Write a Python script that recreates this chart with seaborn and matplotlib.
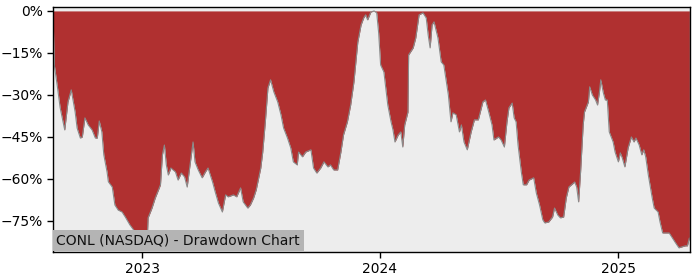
import matplotlib
matplotlib.use("Agg")
import matplotlib.pyplot as plt
from matplotlib.ticker import FuncFormatter
import seaborn as sns
import pandas as pd

dates = [
    "2022-08-17", "2022-08-18", "2022-08-19", "2022-08-24", "2022-08-28", "2022-09-04",
    "2022-09-09", "2022-09-14", "2022-09-20", "2022-09-23", "2022-09-28", "2022-10-01",
    "2022-10-05", "2022-10-10", "2022-10-16", "2022-10-21", "2022-10-24", "2022-10-27",
    "2022-10-31", "2022-11-03", "2022-11-08", "2022-11-10", "2022-11-16", "2022-11-20",
    "2022-11-25", "2022-12-01", "2022-12-06", "2022-12-13", "2022-12-21", "2022-12-26",
    "2022-12-29", "2023-01-02", "2023-01-09", "2023-01-10", "2023-01-16", "2023-01-21",
    "2023-01-26", "2023-01-29", "2023-02-01", "2023-02-04", "2023-02-07", "2023-02-10",
    "2023-02-14", "2023-02-21", "2023-02-25", "2023-03-02", "2023-03-07", "2023-03-11",
    "2023-03-16", "2023-03-20", "2023-03-23", "2023-03-28", "2023-04-03", "2023-04-08",
    "2023-04-12", "2023-04-19", "2023-04-23", "2023-04-28", "2023-05-04", "2023-05-09",
    "2023-05-13", "2023-05-21", "2023-05-26", "2023-06-01", "2023-06-05", "2023-06-12",
    "2023-06-16", "2023-06-21", "2023-06-25", "2023-07-02", "2023-07-05", "2023-07-09",
    "2023-07-13", "2023-07-17", "2023-07-22", "2023-07-28", "2023-08-02", "2023-08-06",
    "2023-08-12", "2023-08-17", "2023-08-21", "2023-08-27", "2023-08-29", "2023-09-04",
    "2023-09-09", "2023-09-17", "2023-09-21", "2023-09-26", "2023-10-02", "2023-10-07",
    "2023-10-13", "2023-10-17", "2023-10-22", "2023-10-28", "2023-11-02", "2023-11-06",
    "2023-11-12", "2023-11-17", "2023-11-22", "2023-11-28", "2023-12-03", "2023-12-07",
    "2023-12-10", "2023-12-13", "2023-12-18", "2023-12-23", "2023-12-27", "2023-12-30",
    "2024-01-02", "2024-01-07", "2024-01-13", "2024-01-18", "2024-01-21", "2024-01-24",
    "2024-01-29", "2024-02-02", "2024-02-05", "2024-02-08", "2024-02-13", "2024-02-14",
    "2024-02-21", "2024-02-25", "2024-03-01", "2024-03-07", "2024-03-12", "2024-03-15",
    "2024-03-18", "2024-03-21", "2024-03-24", "2024-03-30", "2024-04-04", "2024-04-08",
    "2024-04-15", "2024-04-19", "2024-04-22", "2024-04-27", "2024-05-02", "2024-05-05",
    "2024-05-09", "2024-05-14", "2024-05-20", "2024-05-25", "2024-05-31", "2024-06-07",
    "2024-06-11", "2024-06-16", "2024-06-21", "2024-06-24", "2024-07-01", "2024-07-05",
    "2024-07-10", "2024-07-14", "2024-07-17", "2024-07-22", "2024-07-25", "2024-07-28",
    "2024-07-31", "2024-08-05", "2024-08-08", "2024-08-13", "2024-08-17", "2024-08-24",
    "2024-08-28", "2024-09-02", "2024-09-07", "2024-09-10", "2024-09-16", "2024-09-22",
    "2024-09-25", "2024-09-30", "2024-10-04", "2024-10-09", "2024-10-13", "2024-10-17",
    "2024-10-21", "2024-10-26", "2024-10-29", "2024-11-01", "2024-11-04", "2024-11-08",
    "2024-11-10", "2024-11-16", "2024-11-18", "2024-11-22", "2024-11-27", "2024-11-30",
    "2024-12-03", "2024-12-05", "2024-12-09", "2024-12-12", "2024-12-15", "2024-12-18",
    "2024-12-24", "2024-12-27", "2025-01-01", "2025-01-04", "2025-01-07", "2025-01-11",
    "2025-01-16", "2025-01-21", "2025-01-25", "2025-01-28", "2025-02-02", "2025-02-06",
    "2025-02-09", "2025-02-12", "2025-02-16", "2025-02-22", "2025-02-25", "2025-03-03",
    "2025-03-06", "2025-03-10", "2025-03-16", "2025-03-20", "2025-03-25", "2025-03-30",
    "2025-04-04", "2025-04-08", "2025-04-14", "2025-04-17", "2025-04-20",
]

drawdown_pct = [
    0.0, -9.6, -19.3, -27.5, -34.6, -42.5,
    -32.5, -28.2, -36.1, -41.8, -45.4, -45.0,
    -38.2, -40.7, -42.5, -45.4, -45.4, -39.3,
    -43.2, -51.4, -57.5, -61.0, -62.9, -69.3,
    -71.1, -71.8, -73.6, -76.4, -78.9, -80.0,
    -81.8, -81.1, -80.0, -73.9, -70.4, -66.8,
    -63.9, -62.1, -51.4, -47.9, -55.0, -58.6,
    -56.1, -57.5, -60.4, -57.9, -59.3, -62.9,
    -53.9, -46.8, -53.9, -56.8, -59.6, -57.5,
    -56.1, -61.1, -64.6, -68.6, -71.8, -65.7,
    -66.4, -65.7, -66.4, -63.2, -68.2, -70.4,
    -69.3, -66.8, -63.9, -56.1, -50.4, -39.6,
    -27.5, -24.6, -28.9, -32.5, -37.1, -41.8,
    -45.4, -48.9, -53.9, -55.0, -50.4, -52.1,
    -50.4, -49.6, -56.1, -57.9, -56.1, -53.9,
    -55.7, -55.0, -56.8, -56.8, -50.4, -44.3,
    -39.6, -33.6, -25.4, -11.1, -5.0, -2.5,
    -1.4, -3.2, -0.4, 0.0, -0.7, -7.9,
    -19.3, -21.8, -33.6, -39.6, -42.5, -46.8,
    -44.3, -43.2, -48.6, -40.7, -36.1, -15.7,
    -13.2, -9.6, -1.4, -0.7, -2.5, -8.6,
    -13.2, -5.0, -3.9, -9.6, -18.2, -19.3,
    -30.0, -39.6, -36.4, -37.1, -43.2, -40.7,
    -46.8, -49.6, -43.2, -38.9, -38.9, -32.5,
    -31.8, -36.1, -40.7, -46.1, -45.0, -46.1,
    -48.6, -39.6, -34.6, -32.9, -38.2, -39.6,
    -47.9, -57.5, -62.1, -62.1, -60.4, -59.6,
    -65.0, -69.3, -74.6, -75.7, -75.4, -73.6,
    -70.4, -72.9, -73.9, -73.6, -66.8, -62.9,
    -62.1, -61.1, -62.9, -68.2, -57.5, -40.7,
    -36.1, -32.5, -27.1, -30.0, -31.8, -33.6,
    -28.9, -24.6, -29.3, -31.8, -31.8, -43.2,
    -46.8, -50.4, -53.9, -50.7, -52.5, -55.7,
    -48.9, -45.0, -46.8, -45.4, -47.9, -51.4,
    -49.6, -52.1, -58.6, -66.8, -70.4, -71.8,
    -75.4, -79.3, -79.3, -79.3, -81.1, -82.9,
    -84.6, -84.3, -83.9, -83.9, -81.1,
]

y_ticks = [0, -15, -30, -45, -60, -75]
x_tick_years = ["2023", "2024", "2025"]
title_text = "CONL (NASDAQ) - Drawdown Chart"

df = pd.DataFrame({"date": pd.to_datetime(dates), "dd": drawdown_pct})

sns.set_style("ticks")
plt.rcParams["font.family"] = ["DejaVu Sans"]

fig = plt.figure(figsize=(7, 2.8), dpi=100)
ax = fig.add_axes([53 / 700, 1 - 252 / 280, 637 / 700, 245 / 280])
ax.set_facecolor("#EDEDED")

ax.fill_between(df["date"], df["dd"], 0, color="#B03030", linewidth=0, zorder=1)
sns.lineplot(data=df, x="date", y="dd", ax=ax, color="#8A8A8A", linewidth=0.8, zorder=2)

ax.set_xlim(df["date"].iloc[0], pd.Timestamp("2025-04-21"))
ax.set_ylim(-86.1, 1.4)
ax.set_yticks(y_ticks)
ax.yaxis.set_major_formatter(FuncFormatter(lambda v, p: f"{int(v)}%".replace("-", "\u2212")))
ax.set_xticks([pd.Timestamp(y + "-01-01") for y in x_tick_years])
ax.set_xticklabels(x_tick_years)
ax.set_xlabel("")
ax.set_ylabel("")
ax.tick_params(labelsize=10, length=4, width=1, colors="black")
for s in ax.spines.values():
    s.set_visible(True)
    s.set_color("black")
    s.set_linewidth(1.0)

ax.annotate(title_text, xy=(0, 0), xycoords="axes fraction",
            xytext=(2.5, 3.0), textcoords="offset points",
            fontsize=10, color="#111111", ha="left", va="bottom", zorder=5,
            bbox=dict(boxstyle="square,pad=0.25", facecolor="#B4B4B4", edgecolor="none"))

fig.savefig("out.png", dpi=100)
